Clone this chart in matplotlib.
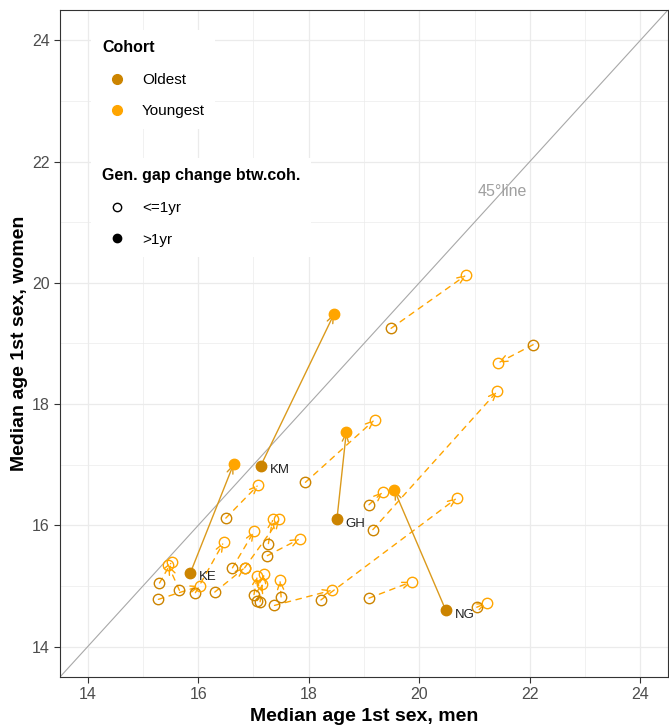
import matplotlib
matplotlib.use("Agg")
import matplotlib.pyplot as plt
from matplotlib.lines import Line2D

plt.rcParams['font.family'] = ['Liberation Sans', 'DejaVu Sans']

# countries with a generation gap change > 1 year (solid arrows)
big_codes = ['KE', 'KM', 'GH', 'NG']
big_old_men = [15.86, 17.13, 18.51, 20.48]
big_old_women = [15.22, 16.98, 16.10, 14.60]
big_young_men = [16.64, 18.46, 18.68, 19.55]
big_young_women = [17.01, 19.49, 17.54, 16.58]

# countries with a change <= 1 year (dashed arrows)
small_old_men = [19.49, 22.06, 19.16, 17.94, 19.09, 18.22, 17.38, 19.09, 21.04,
                 16.50, 17.27, 16.84, 16.62, 15.30, 15.66, 16.30, 17.01, 17.07,
                 17.50, 15.28, 15.95, 17.12, 17.25]
small_old_women = [19.25, 18.98, 15.93, 16.71, 16.34, 14.77, 14.68, 14.80, 14.65,
                   16.12, 15.70, 15.30, 15.30, 15.05, 14.93, 14.90, 14.86, 14.76,
                   14.82, 14.78, 14.89, 14.74, 15.50]
small_young_men = [20.85, 21.43, 21.41, 19.19, 19.34, 20.68, 18.42, 19.86, 21.22,
                   17.09, 17.35, 17.47, 17.01, 15.52, 15.46, 16.84, 17.07, 17.16,
                   17.48, 16.03, 16.46, 17.19, 17.84]
small_young_women = [20.13, 18.68, 18.21, 17.74, 16.55, 16.45, 14.93, 15.07, 14.72,
                     16.67, 16.11, 16.10, 15.90, 15.40, 15.34, 15.30, 15.17, 15.04,
                     15.10, 15.00, 15.72, 15.20, 15.78]

col_old = '#CC8400'
col_young = '#FFA500'
col_solid = '#DB9A1C'
grid_col = '#EBEBEB'
text_col = '#4D4D4D'
arrow_style = '->,head_length=0.55,head_width=0.22'

fig = plt.figure(figsize=(6.69, 7.27), dpi=100)
ax = fig.add_axes([0.0897, 0.0688, 0.9088, 0.9175])
ax.set_xlim(13.5, 24.5)
ax.set_ylim(13.5, 24.5)

# grid (major + minor)
for v in range(14, 25):
    lw = 0.9 if v % 2 == 0 else 0.5
    ax.axvline(v, color=grid_col, lw=lw, zorder=0)
    ax.axhline(v, color=grid_col, lw=lw, zorder=0)

# 45 degree line
ax.plot([13.5, 24.5], [13.5, 24.5], color='#A8A8A8', lw=0.8, zorder=1)
ax.text(21.5, 21.5, '45\u00b0line', color='#A0A0A0', fontsize=11.5,
        ha='center', va='center', zorder=1)

# dashed arrows
for x0, y0, x1, y1 in zip(small_old_men, small_old_women, small_young_men, small_young_women):
    ax.annotate('', xy=(x1, y1), xytext=(x0, y0),
                arrowprops=dict(arrowstyle=arrow_style, color=col_young, lw=1.0,
                                linestyle=(0, (4, 4)), shrinkA=0, shrinkB=0), zorder=2)
ax.plot(small_old_men, small_old_women, 'o', ms=7.5, mfc='none', mec=col_old, mew=1.0, zorder=3)
ax.plot(small_young_men, small_young_women, 'o', ms=7.5, mfc='none', mec=col_young, mew=1.0, zorder=3)

# solid arrows
for x0, y0, x1, y1 in zip(big_old_men, big_old_women, big_young_men, big_young_women):
    ax.annotate('', xy=(x1, y1), xytext=(x0, y0),
                arrowprops=dict(arrowstyle=arrow_style, color=col_solid, lw=1.0,
                                shrinkA=0, shrinkB=0), zorder=4)
ax.plot(big_old_men, big_old_women, 'o', ms=7.5, color=col_old, zorder=5)
ax.plot(big_young_men, big_young_women, 'o', ms=7.5, color=col_young, zorder=5)
for code, x, y in zip(big_codes, big_old_men, big_old_women):
    ax.text(x + 0.16, y - 0.07, code, fontsize=9.5, color='#222222', va='center', zorder=6)

ax.set_xticks(range(14, 25, 2))
ax.set_yticks(range(14, 25, 2))
ax.tick_params(colors='#333333', labelcolor=text_col, labelsize=11.5, length=4, width=0.8)
for s in ax.spines.values():
    s.set_color('#333333')
    s.set_linewidth(0.8)
ax.set_xlabel('Median age 1st sex, men', fontsize=14, fontweight='bold', labelpad=4)
ax.set_ylabel('Median age 1st sex, women', fontsize=14, fontweight='bold', labelpad=3)

# legends
leg_kw = dict(loc='upper left', frameon=True, fancybox=False, edgecolor='none',
              facecolor='white', framealpha=1, fontsize=11,
              title_fontproperties={'weight': 'bold', 'size': 11.5}, alignment='left',
              handletextpad=0.6, labelspacing=1.15, borderpad=0.7)
h_cohort = [Line2D([], [], marker='o', ls='', ms=7, color=col_old),
            Line2D([], [], marker='o', ls='', ms=7, color=col_young)]
leg1 = ax.legend(h_cohort, ['Oldest', 'Youngest'], title='Cohort',
                 bbox_to_anchor=(0.039, 0.982), **leg_kw)
leg1.set_zorder(10)
ax.add_artist(leg1)
h_gap = [Line2D([], [], marker='o', ls='', ms=6, mfc='none', mec='black'),
         Line2D([], [], marker='o', ls='', ms=6, color='black')]
leg2 = ax.legend(h_gap, ['<=1yr', '>1yr'], title='Gen. gap change btw.coh.',
                 bbox_to_anchor=(0.039, 0.79), **leg_kw)
leg2.set_zorder(10)

fig.savefig('out.png', dpi=100)
